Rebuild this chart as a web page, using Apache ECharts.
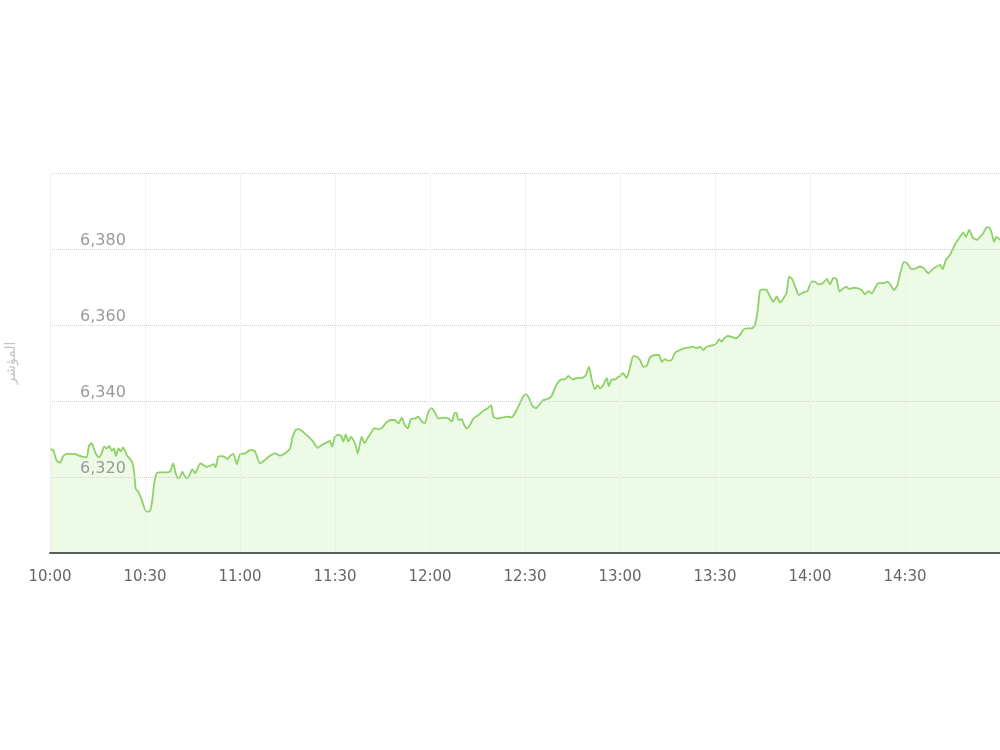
<!DOCTYPE html>
<html>
<head>
<meta charset="utf-8">
<script src="https://cdn.jsdelivr.net/npm/echarts@6/dist/echarts.min.js"></script>
<style>
html,body{margin:0;padding:0;background:#fff;}
#chart{width:1000px;height:750px;}
</style>
</head>
<body>
<div id="chart"></div>
<script>
// Minutes elapsed since 10:00 for each reading
const minutesFrom10 = [
0,1.0,2.1,3.2,4.2,5.3,7.9,8.9,10.5,11.6,12.3,13.2,14.0,14.7,15.5,16.3,17.1,17.9,18.7,19.5,
20.2,20.8,21.6,22.4,23.1,24.2,25.3,26.0,26.6,27.1,27.9,29.0,29.8,30.5,31.6,32.3,32.9,33.7,34.7,36.3,
37.9,38.9,39.7,40.3,41.1,41.8,42.6,43.5,44.2,44.9,45.8,46.6,47.5,48.4,49.5,50.5,51.6,52.3,53.1,54.2,
55.3,56.1,56.8,57.9,59.0,60.0,61.6,63.2,64.7,66.3,67.9,69.5,71.1,72.6,74.2,75.8,76.5,77.6,78.6,80.0,
81.6,83.1,84.5,85.8,87.4,88.4,89.1,90.0,90.9,91.9,92.6,93.4,94.2,95.1,95.8,96.5,97.2,97.9,98.4,99.3,
100.3,101.6,102.4,103.7,104.9,106.3,107.7,108.9,110.0,111.1,111.9,113.0,114.0,115.3,116.3,117.4,118.4,119.5,120.5,121.6,
122.6,124.2,125.8,126.9,127.7,128.4,128.9,130.0,130.8,131.6,132.6,133.7,135.3,136.8,138.2,139.3,140.0,141.1,142.6,144.2,
145.8,146.8,147.9,149.1,150.2,151.3,152.3,153.4,154.4,155.5,156.5,157.6,158.4,159.3,160.3,161.6,162.6,163.7,164.9,166.3,
167.9,169.2,170.2,171.1,172.1,172.9,173.7,174.7,175.8,176.5,177.4,178.4,179.5,180.0,181.0,182.1,183.2,184.2,185.3,186.3,
187.4,188.4,189.5,191.0,192.3,193.2,194.2,195.3,196.3,197.4,198.9,200.5,202.1,203.1,204.2,205.3,206.3,207.4,208.4,209.5,
210.5,211.3,212.1,212.9,214.0,215.3,216.5,217.9,218.9,220.0,221.6,222.6,223.5,224.2,225.3,226.3,227.4,228.4,229.5,230.5,
231.6,232.6,233.4,234.4,235.5,236.5,237.9,239.2,240.5,241.6,242.6,244.0,245.3,246.3,247.4,248.4,249.3,250.3,251.4,252.4,
253.7,254.9,256.3,257.4,258.4,259.5,260.5,261.6,263.2,264.4,265.5,266.5,267.6,268.6,269.7,270.7,272.1,273.5,274.7,276.0,
277.4,278.7,280.0,281.1,281.9,282.9,284.2,285.2,286.3,287.4,288.4,289.2,290.3,291.4,292.7,293.7,294.7,295.8,296.6,297.4,
298.1,298.9,300
];

// Index value at each reading
const indexValues = [
6327.3,6327.1,6324.3,6323.8,6325.5,6326.1,6326.1,6325.7,6325.3,6325.2,6328.2,6328.9,6327.1,6325.8,6325.2,6326.2,6328.0,6327.5,6328.2,6326.9,
6327.5,6325.5,6327.5,6326.7,6327.8,6325.8,6324.7,6323.8,6321.0,6316.8,6316.1,6313.9,6311.8,6310.9,6311.1,6313.9,6318.3,6321.0,6321.2,6321.2,
6321.4,6323.6,6321.0,6319.7,6320.1,6321.4,6320.1,6319.7,6320.8,6322.0,6321.0,6322.3,6323.6,6323.2,6322.7,6322.9,6323.4,6322.6,6325.3,6325.5,
6325.2,6324.7,6325.5,6326.1,6323.4,6326.0,6326.2,6327.1,6326.8,6323.6,6324.5,6325.6,6326.2,6325.6,6326.2,6327.5,6330.2,6332.4,6332.6,6331.8,
6330.6,6329.3,6327.7,6328.4,6329.1,6329.5,6328.0,6330.6,6331.1,6330.9,6329.3,6331.2,6329.3,6330.6,6329.7,6328.4,6326.2,6328.9,6330.6,6328.9,
6330.2,6331.9,6332.8,6332.6,6333.0,6334.4,6335.0,6335.0,6334.1,6335.6,6333.9,6332.8,6335.3,6335.4,6335.9,6334.6,6334.2,6337.2,6338.1,6336.9,
6335.4,6335.6,6335.4,6334.6,6336.8,6336.9,6335.0,6335.2,6333.7,6332.8,6333.7,6335.4,6336.3,6337.4,6338.1,6338.9,6335.9,6335.4,6335.6,6335.9,
6335.7,6336.8,6338.5,6340.7,6341.8,6340.7,6338.7,6338.1,6338.9,6340.1,6340.4,6340.7,6341.3,6343.1,6344.8,6345.7,6345.7,6346.6,6345.7,6346.0,
6346.0,6346.8,6349.0,6345.5,6343.1,6344.2,6343.3,6344.2,6346.0,6343.9,6345.7,6345.6,6346.4,6346.6,6347.3,6346.0,6349.0,6351.8,6351.7,6350.8,
6349.0,6349.2,6351.5,6352.1,6352.1,6350.3,6351.0,6350.6,6350.8,6352.7,6353.4,6353.9,6354.1,6354.3,6353.9,6354.3,6353.4,6354.3,6354.5,6354.7,
6355.2,6356.3,6355.6,6356.5,6357.1,6356.9,6356.5,6357.4,6358.7,6359.1,6359.1,6360.0,6363.9,6369.0,6369.4,6369.2,6367.5,6366.1,6367.5,6365.9,
6367.0,6368.5,6372.7,6372.0,6369.7,6367.9,6368.6,6368.9,6371.4,6371.4,6370.7,6371.0,6372.1,6370.7,6372.4,6372.1,6368.8,6369.5,6370.1,6369.5,
6369.8,6369.7,6369.2,6368.1,6368.9,6368.3,6369.7,6371.0,6371.0,6371.4,6370.5,6369.2,6370.5,6374.0,6376.6,6376.2,6374.7,6374.9,6375.4,6374.9,
6373.6,6374.7,6375.4,6375.8,6374.7,6377.1,6378.4,6380.2,6381.9,6383.2,6384.4,6383.2,6385.0,6383.0,6382.4,6383.2,6384.1,6385.7,6385.7,6384.1,
6381.9,6383.2,6382.4
];

// Tick labels for the time axis (every 30 minutes from 10:00)
const timeTickLabels = ['10:00','10:30','11:00','11:30','12:00','12:30','13:00','13:30','14:00','14:30',''];
// Tick labels shown on the value axis
const valueTickLabels = {6320: '6,320', 6340: '6,340', 6360: '6,360', 6380: '6,380'};
const yAxisTitle = 'المؤشر';

const seriesData = minutesFrom10.map((m, i) => [m, indexValues[i]]);

const chart = echarts.init(document.getElementById('chart'), null, {renderer: 'canvas'});
chart.setOption({
  animation: false,
  backgroundColor: '#ffffff',
  grid: {left: 50, right: 0, top: 173, bottom: 197, containLabel: false, outerBoundsMode: 'none'},
  xAxis: {
    type: 'value',
    min: 0,
    max: 300,
    interval: 30,
    z: 5,
    axisLine: {show: true, onZero: false, lineStyle: {color: '#5a5a5a', width: 2}},
    axisTick: {show: false},
    axisLabel: {
      color: '#666',
      fontSize: 15,
      fontFamily: '"DejaVu Sans", sans-serif',
      margin: 17,
      hideOverlap: false,
      showMinLabel: true,
      formatter: function (v) { return timeTickLabels[Math.round(v / 30)] || ''; }
    },
    splitLine: {show: true, lineStyle: {color: '#e6e6e6', type: 'dotted', width: 1}}
  },
  yAxis: {
    type: 'value',
    min: 6300,
    max: 6400,
    interval: 20,
    z: 5,
    name: yAxisTitle,
    nameLocation: 'middle',
    nameGap: 32,
    nameRotate: 90,
    nameTextStyle: {color: '#c4c4c4', fontSize: 14, fontFamily: '"DejaVu Sans", sans-serif'},
    axisLine: {show: false},
    axisTick: {show: false},
    axisLabel: {
      inside: true,
      margin: 30,
      color: '#9a9a9a',
      fontSize: 16,
      fontFamily: '"DejaVu Sans", sans-serif',
      verticalAlign: 'bottom',
      hideOverlap: false,
      showMinLabel: true,
      showMaxLabel: true,
      formatter: function (v) { return valueTickLabels[Math.round(v)] || ''; }
    },
    splitLine: {show: true, lineStyle: {color: '#d0d0d0', type: 'dotted', width: 1}}
  },
  series: [{
    type: 'line',
    data: seriesData,
    showSymbol: false,
    smooth: 0.2,
    lineStyle: {color: '#8cd267', width: 1.8},
    areaStyle: {color: '#edfae6', origin: 'start', opacity: 1},
    z: 2
  }]
});
</script>
</body>
</html>
